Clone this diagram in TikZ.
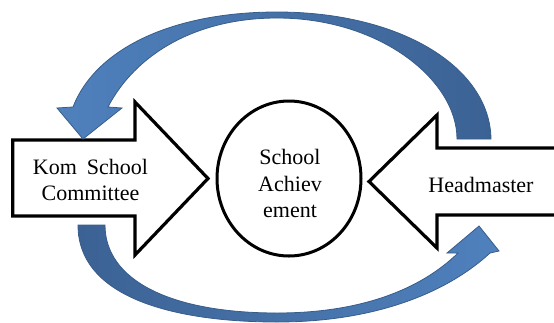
\documentclass[tikz,border=0pt]{standalone}
\usepackage{fontspec}
\setmainfont{Liberation Serif}
\usetikzlibrary{shapes.geometric}
\definecolor{bandlight}{HTML}{4F81BD}
\definecolor{banddark}{HTML}{3C6294}
\definecolor{bandedge}{HTML}{385D8A}
\begin{document}
\begin{tikzpicture}[x=1pt,y=-1pt,
  blockarrow/.style={draw=black,line width=3.2pt,fill=white,line join=miter},
  goalshape/.style={draw=black,line width=3pt,ellipse,fill=white,minimum width=144pt,minimum height=155pt,inner sep=0pt},
  label/.style={font=\fontsize{22}{26.5}\selectfont,align=center,inner sep=0pt},
  band/.style={draw=bandedge,line width=0.8pt,line join=miter}]
\useasboundingbox (0,0) rectangle (554,322);

% block arrows pointing at the centre
\draw[blockarrow] (12.7,140) -- (135,140) -- (135,102) -- (208,178.5)
  -- (135,255) -- (135,216) -- (12.7,216) -- cycle;
\draw[blockarrow] (560,148) -- (437,148) -- (437,115) -- (369,181.5)
  -- (437,248) -- (437,215) -- (560,215);

% central ellipse
\node[goalshape] (goal) at (289,178.5) {};
\node[label] (goaltext) at (290,183.5) {School\\Achiev\\ement};

% arrow labels
\node[label] (committee) at (90.5,180) {Kom\hspace{0.45em}School\\Committee};
\node[label] (head) at (481,185) {Headmaster};

% curved arrow over the top, from the headmaster side to the committee
\path[band,left color=bandlight,right color=banddark]
  (491,139) .. controls (490,68) and (402,12) .. (277,12)
  .. controls (170,12) and (95,50) .. (73,107)
  -- (57,108) -- (83,139) -- (122,108) -- (108,107)
  .. controls (135,55) and (195,18) .. (277,18)
  .. controls (380,18) and (457,80) .. (457,139)
  -- cycle;

% curved arrow under the bottom, from the committee to the headmaster side
\path[band,left color=banddark,right color=bandlight]
  (78,225) .. controls (78,300) and (180,322) .. (277,322)
  .. controls (380,322) and (450,290) .. (490,253)
  -- (499,251) -- (479,226) -- (447,253) -- (458,253)
  .. controls (420,290) and (360,313) .. (277,313)
  .. controls (170,313) and (105,280) .. (105,225)
  -- cycle;
\end{tikzpicture}
\end{document}
